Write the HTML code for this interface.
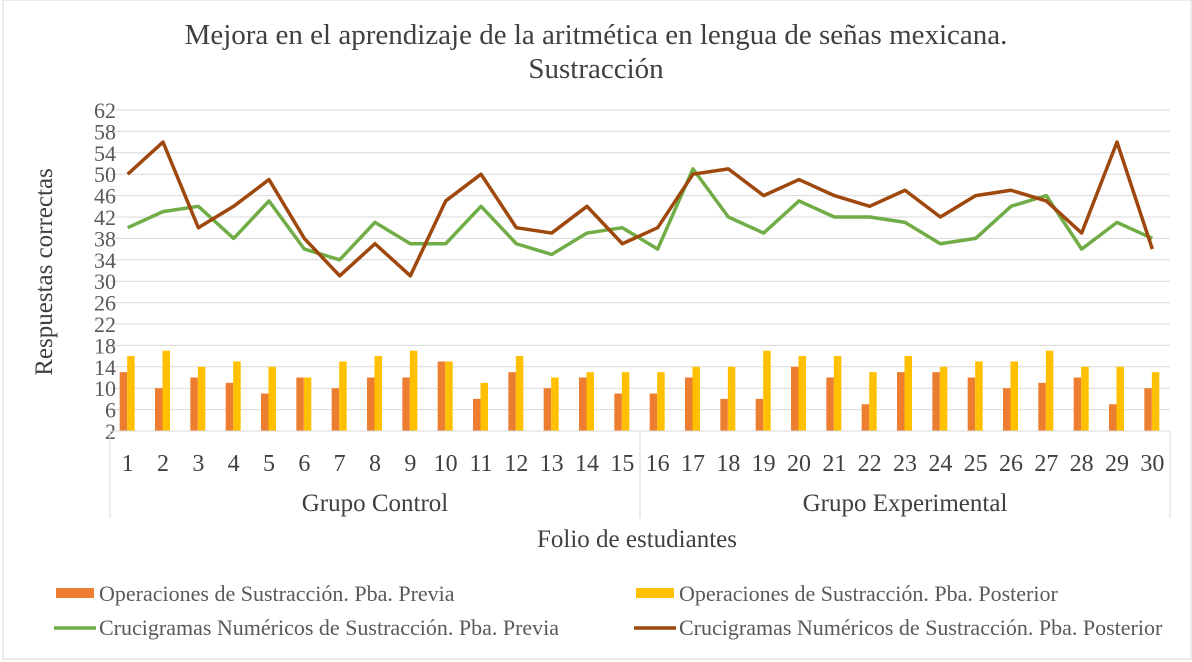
<!DOCTYPE html>
<html><head><meta charset="utf-8"><style>
body{margin:0;background:#fff;}
svg{display:block;font-family:"Liberation Serif",serif;}
</style></head><body>
<svg id="chart" width="1192" height="662">
<rect x="3" y="0" width="1188" height="659" fill="#fff" stroke="#d9d9d9"/>
<text x="596" y="44" font-size="29" fill="#404040" text-anchor="middle">Mejora en el aprendizaje de la aritmética en lengua de señas mexicana.</text>
<text x="596" y="78" font-size="29" fill="#404040" text-anchor="middle">Sustracción</text>
<g id="grid"></g><g id="bars"></g><g id="lines"></g><g id="axes"></g>
<text transform="translate(52,272) rotate(-90)" font-size="25" fill="#404040" text-anchor="middle">Respuestas correctas</text>
<text x="637" y="547" font-size="25" fill="#404040" text-anchor="middle">Folio de estudiantes</text>
<g font-size="22" fill="#595959">
<rect x="56" y="588" width="38" height="10" fill="#ED7D31"/>
<text x="99" y="601">Operaciones de Sustracción. Pba. Previa</text>
<rect x="636" y="588" width="38" height="10" fill="#FFC000"/>
<text x="679" y="601">Operaciones de Sustracción. Pba. Posterior</text>
<line x1="54" y1="628" x2="96" y2="628" stroke="#70AD47" stroke-width="3.5"/>
<text x="99" y="635">Crucigramas Numéricos de Sustracción. Pba. Previa</text>
<line x1="634" y1="628" x2="676" y2="628" stroke="#9E480E" stroke-width="3.5"/>
<text x="679" y="635">Crucigramas Numéricos de Sustracción. Pba. Posterior</text>
</g>
</svg>
<script>
const categories=[1,2,3,4,5,6,7,8,9,10,11,12,13,14,15,16,17,18,19,20,21,22,23,24,25,26,27,28,29,30];
const opsPrevia=[13,10,12,11,9,12,10,12,12,15,8,13,10,12,9,9,12,8,8,14,12,7,13,13,12,10,11,12,7,10];
const opsPosterior=[16,17,14,15,14,12,15,16,17,15,11,16,12,13,13,13,14,14,17,16,16,13,16,14,15,15,17,14,14,13];
const crucPrevia=[40,43,44,38,45,36,34,41,37,37,44,37,35,39,40,36,51,42,39,45,42,42,41,37,38,44,46,36,41,38];
const crucPosterior=[50,56,40,44,49,38,31,37,31,45,50,40,39,44,37,40,50,51,46,49,46,44,47,42,46,47,45,39,56,36];
const yTicks=[2,6,10,14,18,22,26,30,34,38,42,46,50,54,58,62];
const groups=["Grupo Control","Grupo Experimental"];
const NS="http://www.w3.org/2000/svg";
const L=110,R=1170,T=110,B=431,yMin=2,yMax=62;
const step=(R-L)/categories.length;
const x=i=>L+step*(i+0.5);
const y=v=>B-(v-yMin)/(yMax-yMin)*(B-T);
function mk(tag,attrs,parent){const e=document.createElementNS(NS,tag);for(const k in attrs)e.setAttribute(k,attrs[k]);document.getElementById(parent).appendChild(e);return e;}
yTicks.forEach(t=>{
 const g=mk('line',{x1:L,x2:R,y1:y(t),y2:y(t),stroke:'#d9d9d9','stroke-width':1},'grid');
 
 
 const tx=mk('text',{x:116,y:y(t)+8,'font-size':22,fill:'#595959','text-anchor':'end'},'axes');
 tx.textContent=t;
 
 
});
categories.forEach((c,i)=>{
 const b1=mk('rect',{x:x(i)-8,y:y(opsPrevia[i]),width:7.5,height:B-y(opsPrevia[i]),fill:'#ED7D31'},'bars');
 
 
 const b2=mk('rect',{x:x(i)-0.5,y:y(opsPosterior[i]),width:7.5,height:B-y(opsPosterior[i]),fill:'#FFC000'},'bars');
 
 
 const t=mk('text',{x:x(i),y:471,'font-size':24,fill:'#404040','text-anchor':'middle'},'axes');
 t.textContent=c;
 
 
});
[[crucPrevia,'#70AD47','line-cruc-previa'],[crucPosterior,'#9E480E','line-cruc-posterior']].forEach(([d,col,n])=>{
 const p=mk('polyline',{points:d.map((v,i)=>x(i)+','+y(v)).join(' '),fill:'none',stroke:col,'stroke-width':3.5,'stroke-linejoin':'round'},'lines');
 
 
});
const ax=mk('line',{x1:L,x2:R,y1:B,y2:B,stroke:'#d9d9d9'},'axes');


const half=categories.length/2;
[L,L+step*half,R].forEach(xx=>{
 const s=mk('line',{x1:xx,x2:xx,y1:B,y2:518,stroke:'#d9d9d9'},'axes');
 
 
});
groups.forEach((g,i)=>{
 const t=mk('text',{x:L+step*half*(i+0.5),y:511,'font-size':25,fill:'#404040','text-anchor':'middle'},'axes');
 t.textContent=g;
 
 
});
</script>
</body></html>
